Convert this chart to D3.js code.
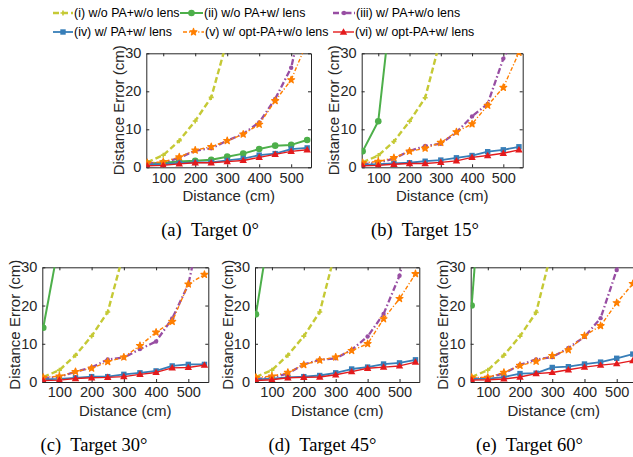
<!DOCTYPE html>
<html><head><meta charset="utf-8">
<script src="https://cdn.jsdelivr.net/npm/d3@7"></script>
<style>body{margin:0;background:#fff}svg{display:block}</style>
</head><body>
<svg id="c" width="633" height="457"></svg>
<script>
// ---- data ----
const distances = [50,100,150,200,250,300,350,400,450,500,550];
const xTicks = [100,200,300,400,500];
const yTicks = [0,10,20,30];
const captions = ["(a)", "(b)", "(c)", "(d)", "(e)"];
const angles = ["0°", "15°", "30°", "45°", "60°"];
const seriesNames = ["(i) w/o PA+w/o lens","(ii) w/o PA+w/ lens","(iii) w/ PA+w/o lens",
                     "(iv) w/ PA+w/ lens","(v) w/ opt-PA+w/o lens","(vi) w/ opt-PA+w/ lens"];
// each series: one row per panel (a..e), values in cm at the distances above
const s1 = [ // (i) w/o PA + w/o lens
  [1.3,3.2,7.0,12.2,18.4,33.5],
  [1.3,3.1,6.8,12.1,18.3,34],
  [1.3,3.1,7.0,12.0,18.3,34],
  [1.3,3.1,7.0,12.0,18.3,34.5],
  [1.3,3.1,7.0,12.0,18.2,35]];
const s2 = [ // (ii) w/o PA + w/ lens
  [1.0,1.2,1.5,1.7,2.0,2.8,3.6,4.8,5.7,5.9,7.2],
  [4.2,12.1,49],
  [14.2,37],
  [17.7,44],
  [20.0,75]];
const s3 = [ // (iii) w/ PA + w/o lens
  [1.0,1.2,2.5,4.4,5.0,7.0,8.8,11.8,18.0,26.2,45],
  [0.8,1.2,2.3,4.3,5.6,6.2,9.2,13.4,16.7,28.6,36],
  [1.0,1.3,2.7,3.8,5.9,6.4,8.6,10.6,16.6,25.5,45],
  [0.8,1.2,2.2,4.6,5.8,6.2,8.4,11.9,17.8,27.8,45],
  [0.8,1.2,2.2,4.5,5.9,6.5,8.9,11.8,16.7,29.3,45]];
const s4 = [ // (iv) w/ PA + w/ lens
  [0.7,0.8,1.1,1.3,1.3,1.8,2.3,3.2,3.6,4.8,5.1],
  [0.6,0.8,1.0,1.2,1.6,1.9,2.5,3.1,4.1,4.6,5.4],
  [0.7,0.8,1.1,1.4,1.4,2.0,2.4,2.9,4.2,4.6,4.6],
  [0.7,0.9,1.2,1.4,1.7,2.4,3.4,3.9,4.7,5.0,5.8],
  [0.8,0.9,1.3,2.2,2.3,3.8,4.0,4.7,5.2,6.2,7.3]];
const s5 = [ // (v) w/ opt-PA + w/o lens
  [1.2,1.4,2.7,4.5,5.4,7.0,8.7,11.3,17.5,23.0,33],
  [1.2,1.5,2.5,4.2,5.0,6.5,9.3,11.4,16.3,21.0,30.2],
  [1.2,1.5,2.7,3.6,5.3,6.5,9.5,13.0,15.8,25.6,28.1],
  [1.2,1.5,2.5,4.5,5.7,6.5,8.2,10.0,16.5,21.8,28.3],
  [1.2,1.2,2.5,4.3,5.4,6.9,8.4,12.1,14.7,20.7,25.7]];
const s6 = [ // (vi) w/ opt-PA + w/ lens
  [0.4,0.5,0.9,1.2,1.2,1.5,1.8,2.6,3.4,4.2,4.6],
  [0.4,0.5,0.8,1.0,1.0,1.3,1.7,2.6,3.1,3.7,4.6],
  [0.4,0.5,0.9,1.1,1.2,1.4,2.0,2.5,3.7,3.8,4.4],
  [0.4,0.6,1.1,1.2,1.3,1.9,2.7,3.6,3.9,4.2,5.2],
  [0.5,0.6,0.8,1.3,2.2,2.5,3.2,3.9,4.4,4.8,5.6]];
const allSeries = [s1,s2,s3,s4,s5,s6];

// ---- styles ----
const styles = [
  {color:"#c5c935", width:2.4, dash:"6,3",      marker:"plus"},
  {color:"#4daf4a", width:2,   dash:null,       marker:"circle"},
  {color:"#984ea3", width:2.3, dash:"6,2.5,1.5,2.5", marker:"dot"},
  {color:"#377eb8", width:1.8, dash:null,       marker:"square"},
  {color:"#ff7f00", width:1.4, dash:"4,2,1.2,2", marker:"star"},
  {color:"#e41a1c", width:1.4, dash:null,       marker:"triangle"}
];
const panels = [
  {l:146.3, r:311,   t:53.3,  b:167.3, cx:210},
  {l:361.7, r:522.7, t:53.3,  b:167.3, cx:425},
  {l:42.3,  r:208.3, t:267.3, b:382,   cx:94},
  {l:255,   r:419.3, t:267.3, b:382,   cx:322.5},
  {l:470.7, r:636.7, t:267.3, b:382,   cx:529.5}
];
const axisColor = "#262626";
const sansFont = "'Liberation Sans', Arial, sans-serif";
const serifFont = "'Liberation Serif', 'Times New Roman', serif";

const svg = d3.select("#c");

function drawMarker(g, type, x, y, color) {
  if (type === "plus") {
    g.append("path").attr("d", `M${x-2.5},${y}H${x+2.5}M${x},${y-2.5}V${y+2.5}`)
      .attr("stroke", color).attr("stroke-width", 1.6).attr("fill", "none");
  } else if (type === "circle") {
    g.append("circle").attr("cx", x).attr("cy", y).attr("r", 3.3).attr("fill", color);
  } else if (type === "dot") {
    g.append("circle").attr("cx", x).attr("cy", y).attr("r", 2.2).attr("fill", color);
  } else if (type === "square") {
    g.append("rect").attr("x", x-2.7).attr("y", y-2.7).attr("width", 5.4).attr("height", 5.4).attr("fill", color);
  } else if (type === "star") {
    g.append("path").attr("d", d3.symbol(d3.symbolStar, 15)())
      .attr("transform", `translate(${x},${y})`).attr("fill", color)
      .attr("stroke", color).attr("stroke-width", 1.2).attr("stroke-linejoin", "round");
  } else if (type === "triangle") {
    g.append("path").attr("d", d3.symbol(d3.symbolTriangle, 24)())
      .attr("transform", `translate(${x},${y+0.5})`).attr("fill", color);
  }
}

panels.forEach((p, pi) => {
  const x = d3.scaleLinear().domain([47, 562]).range([p.l, p.r]);
  const y = d3.scaleLinear().domain([0, 30]).range([p.b, p.t]);
  const g = svg.append("g");
  const clipId = "clip" + pi;
  svg.append("clipPath").attr("id", clipId).append("rect")
    .attr("x", p.l).attr("y", p.t).attr("width", p.r - p.l).attr("height", p.b - p.t);

  // axes with inward ticks (bottom / left), mirrored at top / right
  const axB = d3.axisBottom(x).tickValues(xTicks).tickSizeInner(-3).tickSizeOuter(0).tickPadding(5);
  const axT = d3.axisTop(x).tickValues(xTicks).tickSizeInner(-3).tickSizeOuter(0).tickFormat("");
  const axL = d3.axisLeft(y).tickValues(yTicks).tickSizeInner(-3).tickSizeOuter(0).tickPadding(5);
  const axR = d3.axisRight(y).tickValues(yTicks).tickSizeInner(-3).tickSizeOuter(0).tickFormat("");
  [[axB, `translate(0,${p.b})`], [axT, `translate(0,${p.t})`],
   [axL, `translate(${p.l},0)`], [axR, `translate(${p.r},0)`]].forEach(([ax, tr]) => {
    const a = g.append("g").attr("transform", tr).call(ax);
    a.select(".domain").attr("stroke", axisColor).attr("stroke-width", 1);
    a.selectAll(".tick line").attr("stroke", axisColor);
    a.selectAll(".tick text").attr("fill", axisColor).style("font-family", sansFont).style("font-size", "14.5px");
  });

  const plot = g.append("g").attr("clip-path", `url(#${clipId})`);
  allSeries.forEach((ser, si) => {
    const vals = ser[pi];
    const pts = vals.map((v, k) => [distances[k], v]);
    const st = styles[si];
    const line = d3.line().x(d => x(d[0])).y(d => y(d[1]));
    const path = plot.append("path").attr("d", line(pts)).attr("fill", "none")
      .attr("stroke", st.color).attr("stroke-width", st.width).attr("stroke-linejoin", "round");
    if (st.dash) path.attr("stroke-dasharray", st.dash);
    pts.forEach(d => drawMarker(plot, st.marker, x(d[0]), y(d[1]), st.color));
  });

  // axis labels
  g.append("text").attr("x", (p.l + p.r) / 2).attr("y", p.b + 33.5)
    .attr("text-anchor", "middle").attr("fill", axisColor)
    .style("font-family", sansFont).style("font-size", "15px").text("Distance (cm)");
  g.append("text").attr("transform", `translate(${p.l - 27.5},${(p.t + p.b) / 2}) rotate(-90)`)
    .attr("dy", "0.35em").attr("text-anchor", "middle").attr("fill", axisColor)
    .style("font-family", sansFont).style("font-size", "15px").text("Distance Error (cm)");
  // caption
  g.append("text").attr("x", p.cx).attr("y", p.b + 69)
    .attr("text-anchor", "middle").attr("fill", "#000")
    .style("font-family", serifFont).style("font-size", "18.5px")
    .text(captions[pi] + "\u00A0\u00A0Target " + angles[pi]);
});

// legend
const legendPos = [
  {x1:53, x2:73, y:13}, {x1:180, x2:203, y:13}, {x1:333, x2:355, y:13},
  {x1:53, x2:73, y:32}, {x1:183, x2:204, y:32}, {x1:333, x2:354, y:32}
];
const lg = svg.append("g");
seriesNames.forEach((name, i) => {
  const lp = legendPos[i], st = styles[i];
  const ln = lg.append("line").attr("x1", lp.x1).attr("x2", lp.x2).attr("y1", lp.y).attr("y2", lp.y)
    .attr("stroke", st.color).attr("stroke-width", st.width);
  if (st.dash) ln.attr("stroke-dasharray", st.dash);
  drawMarker(lg, st.marker, (lp.x1 + lp.x2) / 2, lp.y, st.color);
  lg.append("text").attr("x", lp.x2 + 1).attr("y", lp.y).attr("dy", "0.35em")
    .attr("fill", "#000").style("font-family", sansFont).style("font-size", "12.4px").text(name);
});
</script>
</body></html>
